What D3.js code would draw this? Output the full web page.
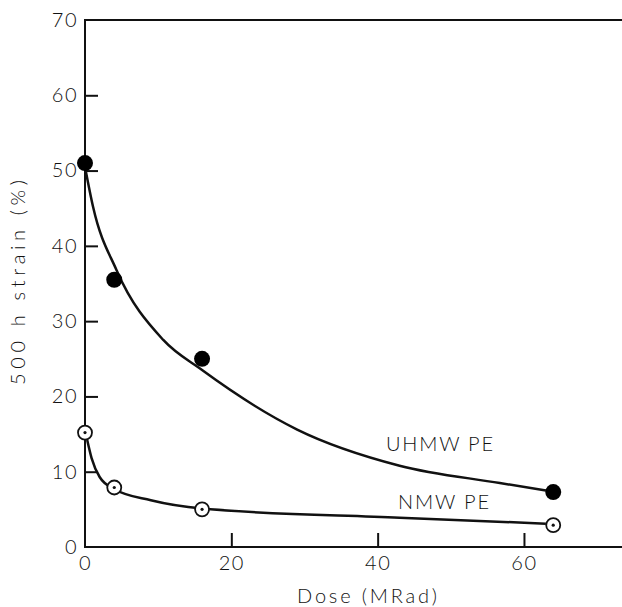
<!DOCTYPE html>
<html>
<head>
<meta charset="utf-8">
<script src="https://cdn.jsdelivr.net/npm/d3@7"></script>
<style>
  body { margin: 0; background: #fff; }
  svg { display: block; }
  text { font-family: "Lato", "Roboto", sans-serif; font-weight: 300; fill: #111; }
</style>
</head>
<body>
<div id="chart-container"></div>
<script>
const width = 622;
const height = 607;

// measured points: dose (MRad) vs 500 h strain (%)
const uhmwDose = [0, 4, 16, 64];
const uhmwStrain = [51, 35.5, 25, 7.3];
const nmwDose = [0, 4, 16, 64];
const nmwStrain = [15.2, 7.9, 5, 2.9];

// hand-drawn trend curves
const uhmwCurveDose = [0, 1.1, 4.3, 10.7, 16, 29, 43, 56.7, 63];
const uhmwCurveStrain = [50.5, 45.2, 36.8, 27.5, 23.5, 15.6, 10.8, 8.5, 7.5];
const nmwCurveDose = [0.3, 0.9, 2, 4, 9, 16, 43, 63];
const nmwCurveStrain = [14.2, 11.8, 9.3, 7.7, 6.2, 5.1, 3.9, 3.1];

const xTicks = [0, 20, 40, 60];
const yTicks = [0, 10, 20, 30, 40, 50, 60, 70];

const x = d3.scaleLinear().domain([0, 73.4]).range([85, 622]);
const y = d3.scaleLinear().domain([0, 70]).range([547, 20]);

const svg = d3
  .select("#chart-container")
  .append("svg")
  .attr("width", width)
  .attr("height", height);

// frame: left axis, top line, bottom axis (open on the right)
svg
  .append("path")
  .attr("d", `M${x.range()[1]},${y(70)}H${x(0)}V${y(0)}H${x.range()[1]}`)
  .attr("fill", "none")
  .attr("stroke", "#111")
  .attr("stroke-width", 2);

const yAxis = svg
  .append("g")
  .attr("transform", `translate(${x(0)},0)`)
  .call(d3.axisLeft(y).tickValues(yTicks).tickSize(-13).tickPadding(7).tickFormat(d3.format("d")));
yAxis.select(".domain").remove();
yAxis.selectAll(".tick line")
  .attr("stroke", "#111")
  .attr("stroke-width", 2)
  .attr("display", (d) => (d === 0 || d === 70 ? "none" : null));
yAxis.selectAll(".tick text").style("font-size", "20px").attr("fill", "#111").attr("letter-spacing", 1.5);

const xAxis = svg
  .append("g")
  .attr("transform", `translate(0,${y(0)})`)
  .call(d3.axisBottom(x).tickValues(xTicks).tickSize(-14).tickPadding(9).tickFormat(d3.format("d")));
xAxis.select(".domain").remove();
xAxis.selectAll(".tick line")
  .attr("stroke", "#111")
  .attr("stroke-width", 2)
  .attr("display", (d) => (d === 0 ? "none" : null));
xAxis.selectAll(".tick text").style("font-size", "20px").attr("fill", "#111").attr("letter-spacing", 1.5);

// curves
const line = d3
  .line()
  .x((d) => x(d[0]))
  .y((d) => y(d[1]))
  .curve(d3.curveMonotoneX);

svg
  .append("path")
  .datum(d3.zip(uhmwCurveDose, uhmwCurveStrain))
  .attr("d", line)
  .attr("fill", "none")
  .attr("stroke", "#111")
  .attr("stroke-width", 2.5);

svg
  .append("path")
  .datum(d3.zip(nmwCurveDose, nmwCurveStrain))
  .attr("d", line)
  .attr("fill", "none")
  .attr("stroke", "#111")
  .attr("stroke-width", 2.5);

// UHMW PE markers: filled
svg
  .append("g")
  .selectAll("circle")
  .data(d3.zip(uhmwDose, uhmwStrain))
  .join("circle")
  .attr("cx", (d) => x(d[0]))
  .attr("cy", (d) => y(d[1]))
  .attr("r", 8)
  .attr("fill", "#000");

// NMW PE markers: open with centre dot
const nmw = svg
  .append("g")
  .selectAll("g")
  .data(d3.zip(nmwDose, nmwStrain))
  .join("g")
  .attr("transform", (d) => `translate(${x(d[0])},${y(d[1])})`);
nmw.append("circle").attr("r", 7).attr("fill", "#fff").attr("stroke", "#111").attr("stroke-width", 1.8);
nmw.append("circle").attr("r", 1.6).attr("fill", "#111");

// series labels
svg
  .append("text")
  .attr("x", 386)
  .attr("y", 451)
  .attr("textLength", 107)
  .attr("lengthAdjust", "spacing")
  .style("font-size", "20px")
  .text("UHMW PE");

svg
  .append("text")
  .attr("x", 398)
  .attr("y", 509)
  .attr("textLength", 91)
  .attr("lengthAdjust", "spacing")
  .style("font-size", "20px")
  .text("NMW PE");

// axis titles
svg
  .append("text")
  .attr("x", 297)
  .attr("y", 603)
  .attr("textLength", 140)
  .attr("lengthAdjust", "spacing")
  .style("font-size", "20px")
  .text("Dose (MRad)");

svg
  .append("text")
  .attr("transform", "rotate(-90)")
  .attr("x", -385)
  .attr("y", 25)
  .attr("textLength", 205)
  .attr("lengthAdjust", "spacing")
  .style("font-size", "20px")
  .text("500 h strain (%)");
</script>
</body>
</html>
